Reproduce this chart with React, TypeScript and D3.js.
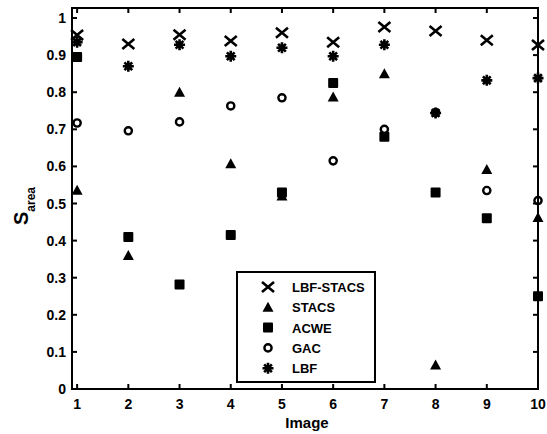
import { useEffect, useRef } from 'react'
import * as d3 from 'd3'

const images = [1, 2, 3, 4, 5, 6, 7, 8, 9, 10]
const yTicks = [0, 0.1, 0.2, 0.3, 0.4, 0.5, 0.6, 0.7, 0.8, 0.9, 1]

const lbfStacs = [0.954, 0.93, 0.955, 0.938, 0.96, 0.935, 0.976, 0.965, 0.94, 0.927]
const stacs = [0.536, 0.36, 0.8, 0.607, 0.52, 0.787, 0.85, 0.065, 0.592, 0.462]
const acwe = [0.895, 0.41, 0.282, 0.415, 0.53, 0.825, 0.68, 0.53, 0.46, 0.25]
const gac = [0.717, 0.696, 0.72, 0.763, 0.785, 0.615, 0.7, 0.745, 0.535, 0.508]
const lbf = [0.935, 0.87, 0.928, 0.897, 0.92, 0.897, 0.928, 0.744, 0.832, 0.838]

const seriesNames = ['LBF-STACS', 'STACS', 'ACWE', 'GAC', 'LBF']
const seriesValues = [lbfStacs, stacs, acwe, gac, lbf]

type Sel = d3.Selection<SVGGElement, unknown, null, undefined>

function drawMarker(g: Sel, kind: string, x: number, y: number) {
  const m = g.append('g').attr('transform', `translate(${x},${y})`)
  if (kind === 'LBF-STACS') {
    m.append('path').attr('d', 'M-6,-5L6,5M-6,5L6,-5')
      .attr('stroke', '#000').attr('stroke-width', 2.6).attr('fill', 'none')
  } else if (kind === 'STACS') {
    m.append('path').attr('d', 'M0,-5.5L5.5,4.5L-5.5,4.5Z').attr('fill', '#000')
  } else if (kind === 'ACWE') {
    m.append('rect').attr('x', -5).attr('y', -5).attr('width', 10).attr('height', 10)
      .attr('rx', 1).attr('fill', '#000')
  } else if (kind === 'GAC') {
    m.append('circle').attr('r', 3.6).attr('fill', '#fff')
      .attr('stroke', '#000').attr('stroke-width', 2.4)
  } else {
    const arms = [0, 45, 90, 135].map(a => {
      const r = (a * Math.PI) / 180
      const dx = 5.5 * Math.cos(r), dy = 5.5 * Math.sin(r)
      return `M${-dx},${-dy}L${dx},${dy}`
    }).join('')
    m.append('path').attr('d', arms).attr('stroke', '#000').attr('stroke-width', 2.6)
    m.append('circle').attr('r', 3.2).attr('fill', '#000')
  }
}

export default function App() {
  const ref = useRef<SVGSVGElement>(null)

  useEffect(() => {
    if (!ref.current) return
    const svg = d3.select(ref.current)
    svg.selectAll('*').remove()

    const left = 72, right = 538, top = 8, bottom = 389
    const x = d3.scaleLinear().domain([0.9, 10]).range([left, right])
    const y = d3.scaleLinear().domain([0, 1.027]).range([bottom, top])

    const root = svg.append('g') as unknown as Sel
    const font = '"Liberation Sans", Arial, sans-serif'

    // data
    seriesNames.forEach((name, i) => {
      seriesValues[i].forEach((v, j) => drawMarker(root, name, x(images[j]), y(v)))
    })

    // axes box
    root.append('rect').attr('x', left).attr('y', top)
      .attr('width', right - left).attr('height', bottom - top)
      .attr('fill', 'none').attr('stroke', '#000').attr('stroke-width', 2)

    const tl = 5
    images.forEach(v => {
      root.append('line').attr('x1', x(v)).attr('x2', x(v)).attr('y1', bottom).attr('y2', bottom - tl)
        .attr('stroke', '#000').attr('stroke-width', 2)
      root.append('line').attr('x1', x(v)).attr('x2', x(v)).attr('y1', top).attr('y2', top + tl)
        .attr('stroke', '#000').attr('stroke-width', 2)
      root.append('text').attr('x', x(v)).attr('y', 409).attr('text-anchor', 'middle')
        .attr('font-family', font).attr('font-size', 14).attr('font-weight', 'bold')
        .text(String(v))
    })
    yTicks.forEach(v => {
      root.append('line').attr('x1', left).attr('x2', left + tl).attr('y1', y(v)).attr('y2', y(v))
        .attr('stroke', '#000').attr('stroke-width', 2)
      root.append('line').attr('x1', right).attr('x2', right - tl).attr('y1', y(v)).attr('y2', y(v))
        .attr('stroke', '#000').attr('stroke-width', 2)
      root.append('text').attr('x', 66).attr('y', y(v) + 5).attr('text-anchor', 'end')
        .attr('font-family', font).attr('font-size', 14).attr('font-weight', 'bold')
        .text(String(v))
    })

    // axis labels
    root.append('text').attr('x', 307).attr('y', 428).attr('text-anchor', 'middle')
      .attr('font-family', font).attr('font-size', 15).attr('font-weight', 'bold')
      .text('Image')
    const yl = root.append('text').attr('transform', 'translate(28,206) rotate(-90)')
      .attr('text-anchor', 'middle').attr('font-family', font).attr('font-weight', 'bold')
    yl.append('tspan').attr('font-size', 20).text('S')
    yl.append('tspan').attr('font-size', 12).attr('dy', 7).text('area')

    // legend
    const lg = root.append('g')
    lg.append('rect').attr('x', 237).attr('y', 272).attr('width', 138).attr('height', 110)
      .attr('fill', '#fff').attr('stroke', '#000').attr('stroke-width', 2)
    seriesNames.forEach((name, i) => {
      const ly = 287 + i * 20.3
      drawMarker(lg, name, 268, ly)
      lg.append('text').attr('x', 292).attr('y', ly + 5)
        .attr('font-family', font).attr('font-size', 13).attr('font-weight', 'bold')
        .text(name)
    })
  }, [])

  return (
    <svg ref={ref} width={547} height={434}
      style={{ position: 'absolute', left: 0, top: 0, background: '#fff' }} />
  )
}
